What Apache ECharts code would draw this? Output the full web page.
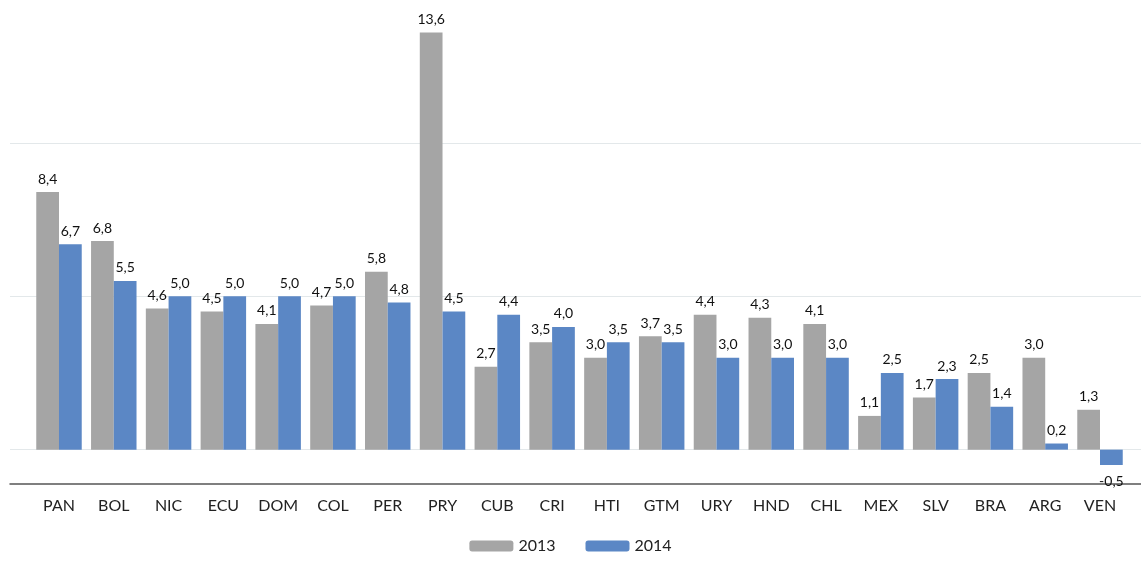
<!DOCTYPE html>
<html>
<head>
<meta charset="utf-8">
<script src="https://cdn.jsdelivr.net/npm/echarts@6/dist/echarts.min.js"></script>
<style>
  html, body { margin: 0; padding: 0; background: #fff; }
  #chart { width: 1141px; height: 561px; }
</style>
</head>
<body>
<div id="chart"></div>
<script>
const countries = ['PAN', 'BOL', 'NIC', 'ECU', 'DOM', 'COL', 'PER', 'PRY', 'CUB', 'CRI',
                   'HTI', 'GTM', 'URY', 'HND', 'CHL', 'MEX', 'SLV', 'BRA', 'ARG', 'VEN']
const values2013 = [8.4, 6.8, 4.6, 4.5, 4.1, 4.7, 5.8, 13.6, 2.7, 3.5,
                    3.0, 3.7, 4.4, 4.3, 4.1, 1.1, 1.7, 2.5, 3.0, 1.3]
const values2014 = [6.7, 5.5, 5.0, 5.0, 5.0, 5.0, 4.8, 4.5, 4.4, 4.0,
                    3.5, 3.5, 3.0, 3.0, 3.0, 2.5, 2.3, 1.4, 0.2, -0.5]
const gridValues = [0, 5, 10]

const yMin = -1.12
const yMax = 14.66
const font = 'Lato, "Open Sans", sans-serif'

let chart = echarts.init(document.getElementById('chart'))

// comma decimals, negative labels go under the bar
function withLabels(arr) {
    return arr.map(v => ({
        value: v,
        label: v < 0 ? { position: 'bottom', distance: 10 } : undefined
    }))
}

let barLabel = {
    show: true,
    position: 'top',
    distance: 6,
    fontFamily: font,
    fontSize: 14,
    color: '#111',
    formatter: p => p.value.toFixed(1).replace('.', ',')
}

let options = {
    animation: false,
    legend: {
        data: ['2013', '2014'],
        bottom: 2,
        left: 'center',
        itemWidth: 44,
        itemHeight: 11,
        itemGap: 30,
        textStyle: { fontFamily: font, fontSize: 16, color: '#222' }
    },
    grid: [
        { left: 31.6, right: 13.6, top: 0, bottom: 77 },
        { left: 10, right: 0, top: 0, bottom: 77 }
    ],
    xAxis: [
        {
            type: 'category',
            gridIndex: 0,
            data: countries,
            axisLine: { show: false },
            axisTick: { show: false },
            axisLabel: { margin: 14, fontFamily: font, fontSize: 16, color: '#222' }
        },
        {
            type: 'value',
            gridIndex: 1,
            min: 0,
            max: 1,
            axisLine: { show: true, onZero: false, lineStyle: { color: '#555', width: 1.5 } },
            axisTick: { show: false },
            axisLabel: { show: false },
            splitLine: { show: false }
        }
    ],
    yAxis: [
        { type: 'value', gridIndex: 0, min: yMin, max: yMax, show: false, splitLine: { show: false } },
        { type: 'value', gridIndex: 1, min: yMin, max: yMax, show: false, splitLine: { show: false } }
    ],
    series: [
        {
            // gridlines, full width, behind the bars
            type: 'line',
            xAxisIndex: 1,
            yAxisIndex: 1,
            data: [],
            silent: true,
            z: 0,
            zlevel: 0,
            markLine: {
                silent: true,
                symbol: 'none',
                z: 0,
                label: { show: false },
                lineStyle: { color: '#E3E8EA', type: 'solid', width: 1.2 },
                data: gridValues.map(v => ({ yAxis: v }))
            }
        },
        {
            name: '2013',
            type: 'bar',
            data: withLabels(values2013),
            itemStyle: { color: '#A5A5A5' },
            barGap: 0,
            barCategoryGap: '17%',
            z: 10,
            label: barLabel
        },
        {
            name: '2014',
            type: 'bar',
            data: withLabels(values2014),
            itemStyle: { color: '#5B87C5' },
            barGap: 0,
            barCategoryGap: '17%',
            z: 10,
            label: barLabel
        }
    ]
}
options && chart.setOption(options)
</script>
</body>
</html>
